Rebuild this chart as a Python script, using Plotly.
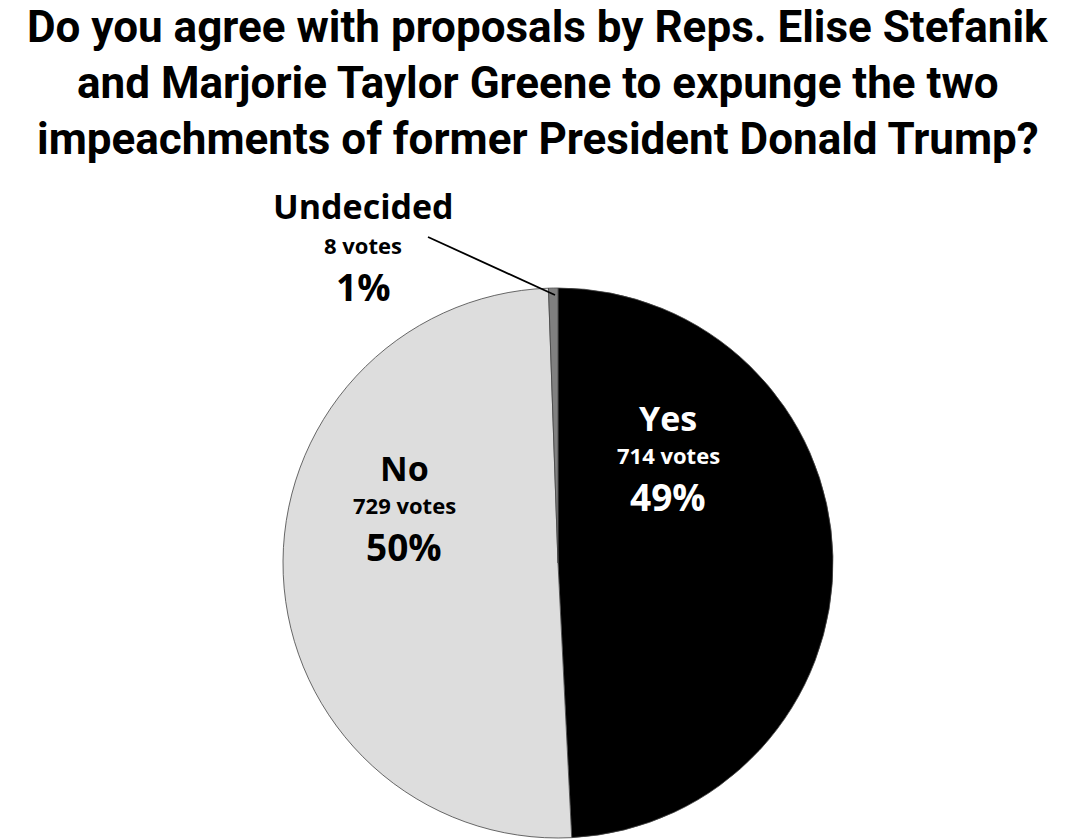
import plotly.graph_objects as go

W, H = 1075, 840

title_lines = [
    "Do you agree with proposals by Reps. Elise Stefanik",
    "and Marjorie Taylor Greene to expunge the two",
    "impeachments of former President Donald Trump?",
]
labels = ["Yes", "No", "Undecided"]
votes = [714, 729, 8]
colors = ["#000000", "#dddddd", "#808080"]
text_colors = ["#ffffff", "#000000", "#000000"]

total = sum(votes)
pcts = [round(v / total * 100) for v in votes]

def px(x):
    return x / W

def py(y):
    return 1 - y / H

fig = go.Figure()
fig.add_trace(go.Pie(
    labels=labels,
    values=votes,
    sort=False,
    direction="clockwise",
    rotation=0,
    marker=dict(colors=colors, line=dict(color="#444444", width=0.8)),
    textinfo="none",
    hoverinfo="label+value+percent",
    showlegend=False,
    domain=dict(x=[px(283), px(833)], y=[py(838), py(288)]),
))

FONT = "Roboto, Open Sans, sans-serif"
LFONT = "Open Sans, sans-serif"

ann = []
for line, yc in zip(title_lines, [27, 83, 139]):
    ann.append(dict(x=0.5, y=py(yc), xref="paper", yref="paper", text=f"<b>{line}</b>",
                    showarrow=False, font=dict(family=FONT, size=44, color="#000000"),
                    xanchor="center", yanchor="middle"))

# label positions (pixel centers) for name / votes / percent
pos = {
    "Yes": (668, [418, 455, 496]),
    "No": (404, [468, 505, 546]),
    "Undecided": (363, [206, 245, 286]),
}
for lab, v, p, tc in zip(labels, votes, pcts, text_colors):
    xc, ys = pos[lab]
    ann.append(dict(x=px(xc), y=py(ys[0]), xref="paper", yref="paper", text=f"<b>{lab}</b>",
                    showarrow=False, font=dict(family=LFONT, size=34, color=tc),
                    xanchor="center", yanchor="middle"))
    ann.append(dict(x=px(xc), y=py(ys[1]), xref="paper", yref="paper", text=f"<b>{v} votes</b>",
                    showarrow=False, font=dict(family=LFONT, size=22, color=tc),
                    xanchor="center", yanchor="middle"))
    ann.append(dict(x=px(xc), y=py(ys[2]), xref="paper", yref="paper", text=f"<b>{p}%</b>",
                    showarrow=False, font=dict(family=LFONT, size=37, color=tc),
                    xanchor="center", yanchor="middle"))

fig.update_layout(
    width=W, height=H,
    margin=dict(l=0, r=0, t=0, b=0),
    paper_bgcolor="#ffffff",
    plot_bgcolor="#ffffff",
    annotations=ann,
    shapes=[dict(type="line", xref="paper", yref="paper",
                 x0=px(428), y0=py(237), x1=px(555), y1=py(295),
                 line=dict(color="#000000", width=1.8))],
)

fig.write_html("out.html", config={"displayModeBar": False},
               post_script="document.body.style.margin='0';")
